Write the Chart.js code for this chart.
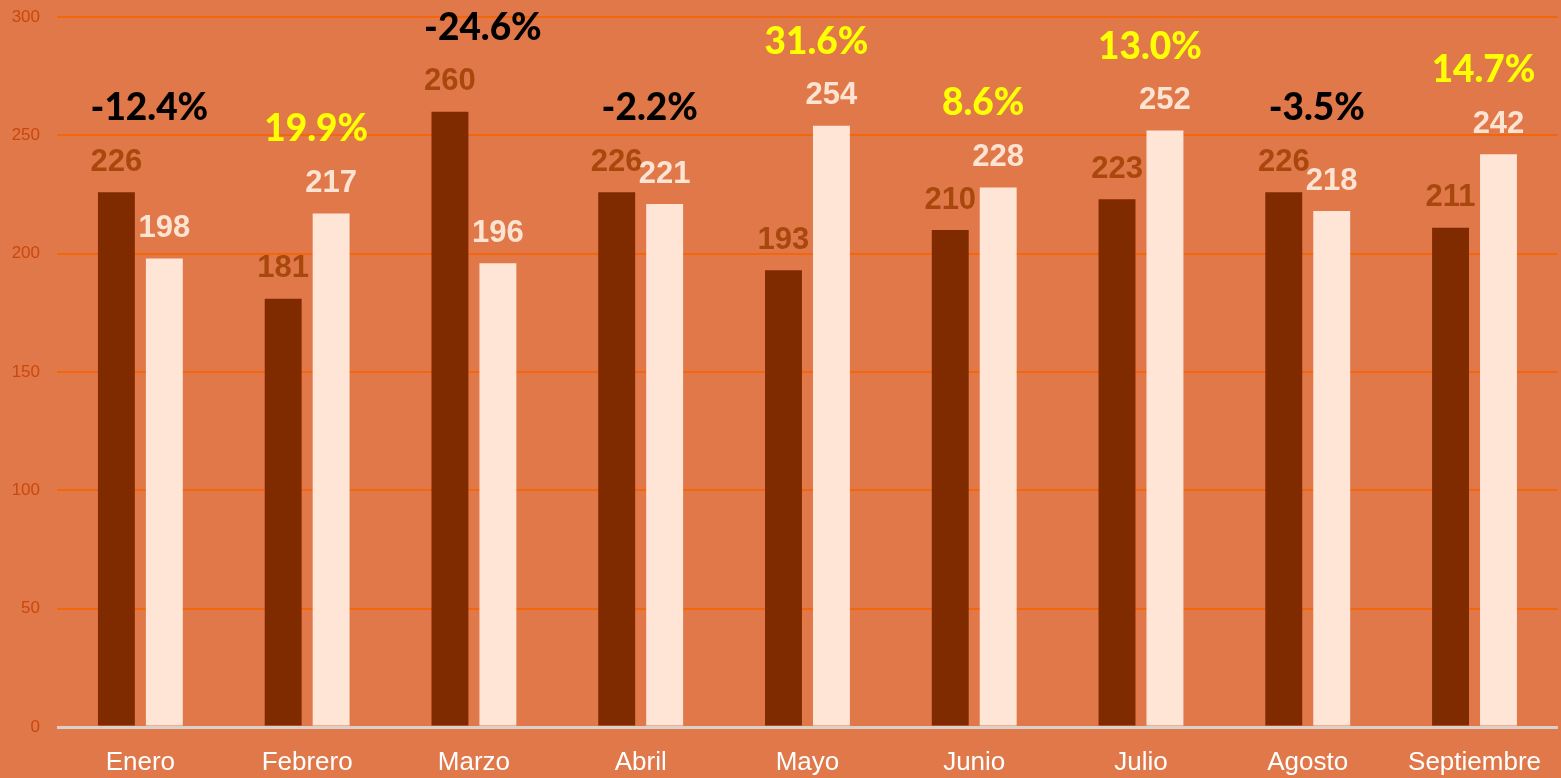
<!DOCTYPE html>
<html>
<head>
<meta charset="utf-8">
<script src="https://cdn.jsdelivr.net/npm/chart.js@4/dist/chart.umd.min.js"></script>
<style>
  html, body { margin: 0; padding: 0; background: #e0784a; }
  #wrap { width: 1561px; height: 778px; }
</style>
</head>
<body>
<div id="wrap"><canvas id="grafico"></canvas></div>
<script>
// datos
var meses = ['Enero', 'Febrero', 'Marzo', 'Abril', 'Mayo', 'Junio', 'Julio', 'Agosto', 'Septiembre'];
var anterior = [226, 181, 260, 226, 193, 210, 223, 226, 211];
var actual = [198, 217, 196, 221, 254, 228, 252, 218, 242];
var ticksY = [0, 50, 100, 150, 200, 250, 300];

var etiquetas = {
    id: 'etiquetas',
    afterDatasetsDraw: function (chart) {
        var ctx = chart.ctx;
        var x = chart.scales.x;
        ctx.save();
        ctx.textAlign = 'center';
        ctx.textBaseline = 'middle';
        // valores encima de cada barra
        chart.data.datasets.forEach(function (ds, d) {
            var meta = chart.getDatasetMeta(d);
            ctx.fillStyle = d == 0 ? '#a9480d' : '#fde4d2';
            ctx.font = 'bold 31px "Liberation Sans", Arial, sans-serif';
            meta.data.forEach(function (bar, i) {
                ctx.fillText(ds.data[i], bar.x, bar.y - 30);
            });
        });
        // variacion porcentual
        ctx.font = '900 37px Lato, "Open Sans", sans-serif';
        for (var i = 0; i < meses.length; i++) {
            var cambio = (actual[i] / anterior[i] - 1) * 100;
            var a = chart.getDatasetMeta(0).data[i];
            var b = chart.getDatasetMeta(1).data[i];
            var top = Math.min(a.y, b.y);
            ctx.fillStyle = cambio < 0 ? '#000000' : '#ffff00';
            ctx.fillText(cambio.toFixed(1) + '%', x.getPixelForValue(i) + 9, top - 84);
        }
        ctx.restore();
    }
};

var grafico = new Chart(document.getElementById('grafico'), {
    type: 'bar',
    data: {
        labels: meses,
        datasets: [
            {
                label: 'Anterior',
                data: anterior,
                backgroundColor: '#802a00',
                categoryPercentage: 0.575,
                barPercentage: 0.77
            },
            {
                label: 'Actual',
                data: actual,
                backgroundColor: '#fee5d6',
                categoryPercentage: 0.575,
                barPercentage: 0.77
            }
        ]
    },
    options: {
        responsive: true,
        maintainAspectRatio: false,
        animation: false,
        layout: { padding: { top: 17, right: 0, left: 0, bottom: 0 } },
        plugins: {
            legend: { display: false },
            tooltip: { enabled: false }
        },
        scales: {
            x: {
                grid: { display: false, drawTicks: false },
                border: { display: false },
                ticks: {
                    color: '#ffffff',
                    padding: 20,
                    font: { family: '"Liberation Sans", Arial, sans-serif', size: 26 }
                },
                afterFit: function (scale) { scale.height = 51; }
            },
            y: {
                min: 0,
                max: 300,
                afterBuildTicks: function (scale) {
                    scale.ticks = ticksY.map(function (v) { return { value: v }; });
                },
                grid: {
                    color: function (c) { return c.index == 0 ? '#d9d0cc' : '#f2660c'; },
                    lineWidth: function (c) { return c.index == 0 ? 3 : 2; },
                    drawTicks: false
                },
                border: { display: false },
                ticks: {
                    color: '#c9480c',
                    padding: 17,
                    font: { family: '"Liberation Sans", Arial, sans-serif', size: 17 }
                },
                afterFit: function (scale) {
                    scale.width = 57;
                    scale.paddingTop = 0;
                    scale.paddingBottom = 0;
                }
            }
        }
    },
    plugins: [etiquetas]
});
</script>
</body>
</html>
